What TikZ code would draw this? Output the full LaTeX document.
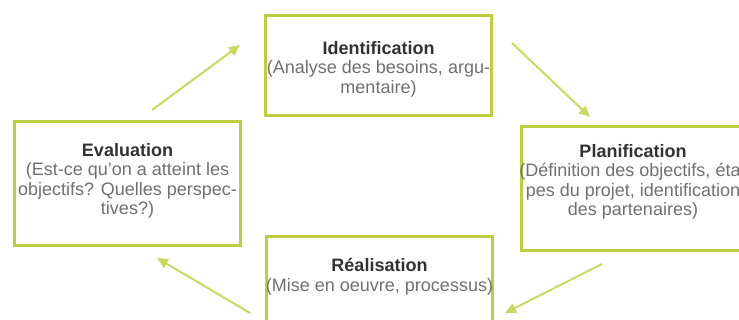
\documentclass[tikz,border=0pt]{standalone}
\usepackage{fontspec}
\setmainfont{Liberation Sans}
\usetikzlibrary{arrows.meta}
\definecolor{framec}{RGB}{190,206,62}
\definecolor{arrowc}{RGB}{202,216,96}
\definecolor{titlec}{RGB}{50,50,50}
\definecolor{bodyc}{RGB}{112,112,112}
\begin{document}
\begin{tikzpicture}[x=1pt,y=-1pt,
  stage/.style={draw=framec, line width=3pt, fill=white, inner sep=0pt, minimum width=226pt},
  caption/.style={align=center, text=bodyc, font=\fontsize{18}{19.5}\selectfont, inner sep=0pt},
  heading/.style={text=titlec, font=\bfseries},
  flow/.style={draw=arrowc, line width=2pt, -{Triangle[length=11pt,width=10pt]}}]
\useasboundingbox (0,0) rectangle (739,320);
\clip (0,0) rectangle (739,320);

% four stages of the project cycle
\node[stage, minimum height=100pt] (ident) at (378.5,65.5) {};
\node[stage, minimum height=124pt] (plan)  at (634.5,188.5) {};
\node[stage, minimum height=100pt] (real)  at (379.5,286.5) {};
\node[stage, minimum height=124pt] (eval)  at (127.5,183.5) {};

\node[caption] (identT) at (378.5,69) {{\color{titlec}\bfseries Identification}\\(Analyse des besoins, argu-\\mentaire)};
\node[caption] (planT) at (633,182) {{\color{titlec}\bfseries Planification}\\(Définition des objectifs, éta-\\pes du projet, identification\\des partenaires)};
\node[caption] (realT) at (379.5,277) {{\color{titlec}\bfseries Réalisation}\\(Mise en oeuvre, processus)};
\node[caption] (evalT) at (127.5,181) {{\color{titlec}\bfseries Evaluation}\\(Est-ce qu'on a atteint les\\objectifs? Quelles perspec-\\tives?)};

% arrow ends between the stages
\coordinate (e1) at (152,110); \coordinate (i1) at (240,45);
\coordinate (i2) at (512,43);  \coordinate (p1) at (590,117);
\coordinate (p2) at (602,264); \coordinate (r1) at (505,313);
\coordinate (r2) at (250,313); \coordinate (e2) at (157,258);

\draw[flow] (e1) -- (i1);
\draw[flow] (i2) -- (p1);
\draw[flow] (p2) -- (r1);
\draw[flow] (r2) -- (e2);
\end{tikzpicture}
\end{document}
